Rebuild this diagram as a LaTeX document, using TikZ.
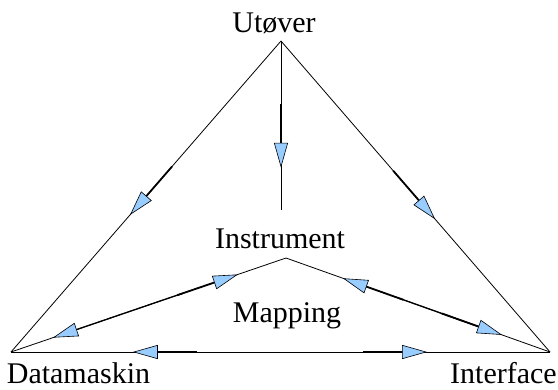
\documentclass[tikz,border=0pt]{standalone}
\usepackage{fontspec}
\setmainfont{Liberation Serif}
\usetikzlibrary{arrows.meta,decorations.markings,calc}
\definecolor{arrowblue}{RGB}{153,204,255}
\tikzset{
  Tri/.tip={Triangle[length=25pt,width=14pt,fill=arrowblue,line width=0.6pt]},
  edge/.style={line width=0.8pt,black},
  fwd/.style={postaction={decorate,decoration={markings,
    mark=at position #1 with {\draw[line width=1.8pt] (-64pt,0)--(-24pt,0); \arrow{Tri}}}}},
  bwd/.style={postaction={decorate,decoration={markings,
    mark=at position #1 with {\draw[line width=1.8pt] (24pt,0)--(64pt,0); \arrowreversed{Tri}}}}},
  bwdthin/.style={postaction={decorate,decoration={markings,
    mark=at position #1 with {\arrowreversed{Tri}}}}},
  medium/.style={line width=1.3pt},
  lbl/.style={font=\fontsize{30}{32}\selectfont,inner sep=0pt,anchor=base}
}
\begin{document}
\begin{tikzpicture}[x=1pt,y=-1pt]
\useasboundingbox (0,0) rectangle (558,389);
\coordinate (A) at (281,41);
\coordinate (V) at (281,210);
\coordinate (D) at (11,352);
\coordinate (I) at (550,352);
\coordinate (P) at (286,258);
\node[lbl] (ut) at (274,32) {Utøver};
\node[lbl] (ins) at (280,248) {Instrument};
\node[lbl] (map) at (287,322) {Mapping};
\node[lbl] (dat) at (78.5,383) {Datamaskin};
\node[lbl] (int) at (503.5,383) {Interface};
\draw[medium] ($(D)!0.236!(P)$) -- ($(D)!0.625!(P)$);
\draw[medium] ($(P)!0.424!(I)$) -- ($(P)!0.746!(I)$);
\draw[edge,fwd=0.75] (A) -- (V);
\draw[edge,fwd=0.559] (A) -- (D);
\draw[edge,fwd=0.573] (A) -- (I);
\draw[edge,bwd=0.226,fwd=0.772] (D) -- (I);
\draw[edge,bwdthin=0.153,fwd=0.825] (D) -- (P);
\draw[edge,bwd=0.216,fwd=0.818] (P) -- (I);
\end{tikzpicture}
\end{document}
